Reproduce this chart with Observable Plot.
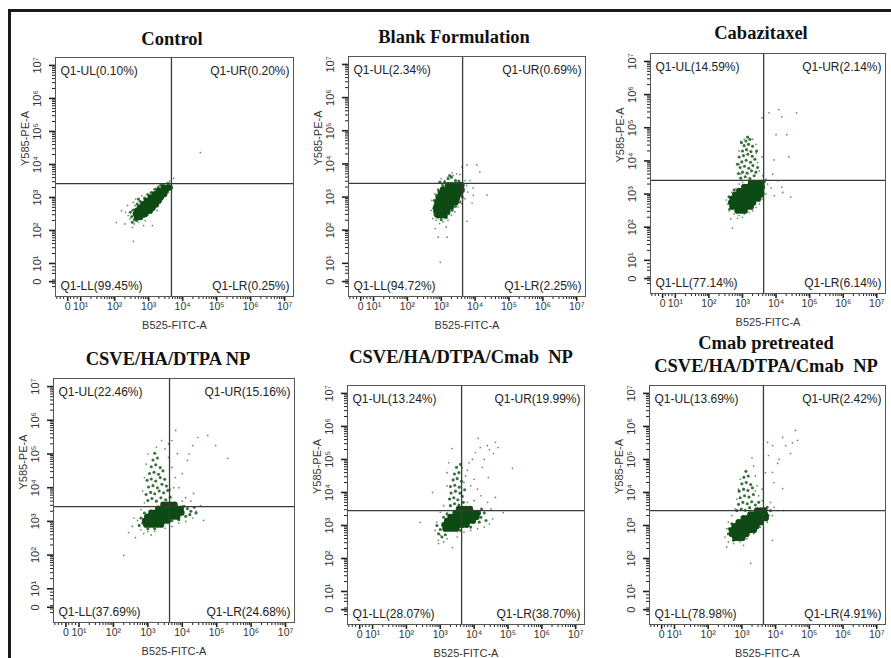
<!DOCTYPE html>
<html>
<head>
<meta charset="utf-8">
<script src="https://cdn.jsdelivr.net/npm/d3@7"></script>
<script src="https://cdn.jsdelivr.net/npm/@observablehq/plot@0.6"></script>
<style>
  html, body { margin: 0; padding: 0; background: #fff; }
  #fig { position: relative; width: 891px; height: 658px; overflow: hidden; background: #fff; }
  #border { position: absolute; left: 8px; top: 9px; width: 900px; height: 700px;
            border-left: 3px solid #1a1a1a; border-top: 3px solid #1a1a1a; }
  .title { position: absolute; width: 320px; text-align: center; white-space: pre;
           font-family: "Liberation Serif", "Times New Roman", serif; font-weight: bold;
           font-size: 18.5px; line-height: 20px; color: #111; }
  .panel { position: absolute; }
</style>
</head>
<body>
<div id="fig"><div id="border"></div></div>
<script>
// Panel titles
const titles = [
  "Control",
  "Blank Formulation",
  "Cabazitaxel",
  "CSVE/HA/DTPA NP",
  "CSVE/HA/DTPA/Cmab  NP",
  "Cmab pretreated\nCSVE/HA/DTPA/Cmab  NP"
];

// Quadrant percentages per panel: [UL, UR, LL, LR]
const quadrantPct = [
  [0.10, 0.20, 99.45, 0.25],
  [2.34, 0.69, 94.72, 2.25],
  [14.59, 2.14, 77.14, 6.14],
  [22.46, 15.16, 37.69, 24.68],
  [13.24, 19.99, 28.07, 38.70],
  [13.69, 2.42, 78.98, 4.91]
];

// Quadrant gate positions (log10 units) per panel
const gateX = [3.67, 3.63, 3.63, 3.63, 3.63, 3.64];
const gateY = [3.42, 3.41, 3.41, 3.44, 3.45, 3.45];

// Axis ticks (log10 decades); "0" sits on the biexponential segment below 10^1
const decades = [1, 2, 3, 4, 5, 6, 7];
const xZeroTick = 0.62;
const yZeroTick = 0.45;
const superscripts = ["⁰", "¹", "²", "³", "⁴", "⁵", "⁶", "⁷"];

// Events in log10 units [B525-FITC-A, Y585-PE-A].
// Dense cores are listed row by row as [PE level, [FITC values]].
const controlDenseRows = [
  [2.40, [2.66, 2.74]],
  [2.50, [2.62, 2.72, 2.82, 2.9]],
  [2.60, [2.66, 2.76, 2.86, 2.96, 3.04]],
  [2.70, [2.74, 2.84, 2.94, 3.04, 3.12]],
  [2.80, [2.84, 2.94, 3.04, 3.14, 3.22]],
  [2.90, [2.94, 3.04, 3.14, 3.24, 3.3]],
  [3.00, [3.06, 3.16, 3.26, 3.36]],
  [3.10, [3.18, 3.28, 3.38, 3.46]],
  [3.20, [3.3, 3.4, 3.5]],
  [3.30, [3.44, 3.54, 3.62]]
];
const controlMid = [[2.5,2.42],[2.55,2.62],[2.58,2.33],[2.66,2.8],[2.75,2.88],[2.64,2.3],[2.86,2.42],[2.95,2.48],[3.05,2.55],[3.15,2.64],[3.25,2.74],[2.88,2.98],[2.98,3.08],[3.08,3.15],[3.2,3.25],[3.28,3.3],[3.38,2.98],[3.48,3.1],[3.55,3.2],[3.45,3.35],[3.58,3.42],[3.66,3.3],[2.52,2.25],[2.46,2.55],[3.36,3.38],[2.7,2.95]];
const controlSparse = [[2.05,2.24],[2.55,1.67],[4.52,4.36],[2.52,2.09],[3.11,2.15],[2.32,2.55],[2.38,2.76],[3.73,3.58],[2.45,2.35],[2.5,2.6],[2.58,2.2],[2.65,2.3],[2.55,2.85],[2.62,2.95],[2.7,2.25],[2.82,2.35],[2.9,2.45],[2.75,2.9],[2.8,3.05],[2.95,3.1],[3.05,3.15],[3.2,2.7],[3.3,2.85],[3.35,2.95],[3.45,3.05],[3.5,3.15],[3.55,3.45],[3.62,3.5],[3.68,3.42],[3.4,3.4],[3.3,3.35],[3.15,3.25],[3.0,2.55],[2.9,2.3],[2.6,2.75],[2.4,2.45],[2.3,2.2],[3.25,2.6],[2.2,2.6],[2.85,2.15],[3.65,3.25],[3.58,3.15]];

const blankDenseRows = [
  [2.45, [2.9, 3.0, 3.1]],
  [2.58, [2.85, 2.96, 3.07, 3.18]],
  [2.71, [2.85, 2.96, 3.07, 3.18, 3.29]],
  [2.84, [2.88, 2.99, 3.1, 3.21, 3.32, 3.43]],
  [2.97, [2.92, 3.03, 3.14, 3.25, 3.36, 3.47]],
  [3.10, [2.98, 3.09, 3.2, 3.31, 3.42, 3.53]],
  [3.23, [3.05, 3.16, 3.27, 3.38, 3.49, 3.6]],
  [3.36, [3.2, 3.31, 3.42, 3.53, 3.6]]
];
const blankMid = [[3.1,3.45],[3.2,3.55],[3.3,3.6],[3.42,3.5],[3.52,3.48],[3.05,3.35],[3.65,3.18],[3.62,3.0],[3.55,2.86],[3.42,2.72],[3.32,2.6],[3.22,2.5],[2.78,2.66],[2.8,2.9],[2.86,3.05],[2.92,3.2],[3.15,2.38],[2.82,2.45],[3.0,2.32],[3.25,3.65],[2.96,3.45]];
const blankSparse = [[2.97,1.03],[2.91,1.79],[3.17,1.79],[3.76,2.27],[4.05,3.97],[4.35,3.06],[3.76,3.97],[3.61,3.91],[3.32,3.73],[4.14,3.76],[3.94,3.27],[3.91,2.82],[2.75,2.35],[2.7,2.6],[2.72,2.9],[2.8,3.1],[2.9,3.25],[3.0,3.4],[3.1,3.5],[3.2,3.6],[3.35,3.65],[3.45,3.7],[3.55,3.68],[3.7,3.5],[3.75,3.35],[3.78,3.15],[3.7,2.95],[3.6,2.8],[3.5,2.7],[3.4,2.55],[3.3,2.45],[3.2,2.3],[3.05,2.25],[2.95,2.2],[2.85,2.3],[3.1,2.4],[2.78,2.5],[3.85,3.5],[3.95,3.05],[3.0,3.55],[3.25,2.55],[3.65,3.15],[2.82,2.05],[3.15,2.1]];

const cabaDenseRows = [
  [2.50, [2.85, 2.96, 3.07]],
  [2.62, [2.7, 2.81, 2.92, 3.03, 3.14, 3.25]],
  [2.74, [2.66, 2.77, 2.88, 2.99, 3.1, 3.21, 3.32]],
  [2.86, [2.7, 2.81, 2.92, 3.03, 3.14, 3.25, 3.36, 3.47]],
  [2.98, [2.78, 2.89, 3.0, 3.11, 3.22, 3.33, 3.44, 3.55]],
  [3.10, [2.9, 3.01, 3.12, 3.23, 3.34, 3.45, 3.56]],
  [3.22, [3.05, 3.16, 3.27, 3.38, 3.49, 3.58]],
  [3.34, [3.25, 3.36, 3.47, 3.57]]
];
const cabaMid = [[2.95,3.48],[3.08,3.52],[3.22,3.47],[3.35,3.55],[2.88,3.62],[3.0,3.66],[3.14,3.63],[3.27,3.7],[3.4,3.66],[2.93,3.8],[3.06,3.84],[3.19,3.78],[3.31,3.86],[2.98,3.97],[3.11,4.02],[3.24,3.96],[3.37,4.05],[2.9,4.12],[3.03,4.16],[3.16,4.2],[3.29,4.14],[3.0,4.3],[3.12,4.34],[3.25,4.28],[3.05,4.46],[3.18,4.5],[3.3,4.44],[3.1,4.6],[3.22,4.65],[2.97,4.55],[3.45,3.8],[3.42,4.3],[2.85,3.9],[3.15,4.72],[2.62,2.55],[2.6,2.92],[2.75,3.12],[3.62,3.2],[3.65,3.38],[3.62,3.02]];
const cabaSparse = [[3.79,5.45],[4.08,5.55],[4.17,5.33],[4.61,5.45],[4.32,4.79],[4.0,4.79],[3.58,5.3],[3.41,4.24],[4.38,4.12],[4.44,2.91],[4.17,3.21],[3.85,3.18],[2.7,1.97],[2.52,2.82],[2.85,2.27],[3.58,4.12],[3.94,4.03],[2.95,4.6],[2.9,4.3],[2.9,3.9],[2.95,3.6],[3.4,4.5],[3.45,3.95],[3.5,3.7],[3.6,3.55],[3.7,3.45],[3.75,3.3],[3.7,3.0],[3.6,2.85],[3.5,2.7],[3.4,2.6],[3.3,2.5],[3.2,2.45],[3.05,2.4],[2.9,2.35],[2.75,2.4],[2.6,2.5],[2.55,2.7],[2.6,2.9],[2.68,3.05],[2.8,3.15],[2.9,3.3],[3.0,3.35],[3.3,4.65],[3.15,4.7],[3.05,4.65],[3.9,3.6],[4.05,3.4],[3.95,2.95],[4.2,3.05],[3.0,2.3],[2.65,2.25]];

const npDenseRows = [
  [2.90, [2.95, 3.06, 3.17, 3.28, 3.39]],
  [3.02, [2.92, 3.03, 3.14, 3.25, 3.36, 3.47, 3.58]],
  [3.14, [2.98, 3.09, 3.2, 3.31, 3.42, 3.53, 3.64, 3.75, 3.86]],
  [3.26, [3.1, 3.21, 3.32, 3.43, 3.54, 3.65, 3.76, 3.87, 3.98]],
  [3.38, [3.3, 3.41, 3.52, 3.63, 3.74, 3.85, 3.96]],
  [3.50, [3.45, 3.56, 3.67, 3.78]]
];
const npMid = [[3.0,3.62],[3.12,3.68],[3.25,3.6],[3.38,3.7],[3.52,3.64],[3.65,3.72],[2.95,3.8],[3.08,3.86],[3.2,3.82],[3.33,3.9],[3.46,3.85],[3.58,3.92],[3.02,4.02],[3.15,4.06],[3.28,4.0],[3.41,4.1],[3.54,4.05],[2.98,4.22],[3.1,4.26],[3.23,4.2],[3.36,4.3],[3.49,4.25],[3.05,4.42],[3.18,4.46],[3.31,4.4],[3.44,4.5],[3.1,4.62],[3.23,4.68],[3.36,4.6],[3.15,4.82],[3.28,4.88],[3.2,5.02],[4.05,3.45],[4.15,3.38],[4.25,3.3],[4.35,3.42],[4.1,3.15],[4.22,3.2],[4.4,3.25],[2.85,2.95],[2.8,3.1],[2.9,3.25],[3.7,3.02],[3.9,3.05],[3.0,2.78],[3.2,2.78],[2.75,2.88]];
const npSparse = [[2.44,2.67],[2.64,2.52],[2.3,1.99],[2.88,2.64],[2.7,3.03],[2.99,2.94],[3.81,5.7],[4.3,5.25],[4.45,5.49],[4.74,5.55],[4.97,5.25],[5.32,4.87],[4.0,4.42],[4.33,3.83],[4.53,3.47],[4.62,3.03],[3.86,5.01],[4.15,4.81],[3.6,5.3],[3.5,5.15],[3.0,5.0],[2.95,4.7],[2.9,4.3],[2.85,3.9],[3.7,4.6],[3.8,4.3],[3.9,4.0],[4.1,3.7],[4.25,3.6],[4.4,3.3],[4.3,3.1],[4.1,3.0],[3.9,2.95],[3.7,2.85],[3.5,2.8],[3.2,2.7],[3.0,2.7],[2.8,2.75],[2.75,2.9],[2.6,3.1],[3.6,4.9],[3.7,5.4],[4.2,5.0],[3.4,5.4],[3.25,5.2],[2.8,3.35],[2.9,3.55],[3.75,4.0],[3.65,3.95],[4.0,3.6],[3.1,2.6],[2.55,2.85]];

const cmabDenseRows = [
  [2.90, [3.15, 3.26, 3.37, 3.48]],
  [3.02, [3.12, 3.23, 3.34, 3.45, 3.56, 3.67, 3.78]],
  [3.14, [3.2, 3.31, 3.42, 3.53, 3.64, 3.75, 3.86, 3.97]],
  [3.26, [3.3, 3.41, 3.52, 3.63, 3.74, 3.85, 3.96, 4.07]],
  [3.38, [3.45, 3.56, 3.67, 3.78, 3.89, 4.0, 4.11]],
  [3.50, [3.55, 3.66, 3.77, 3.88]]
];
const cmabMid = [[3.3,3.6],[3.42,3.66],[3.55,3.62],[3.68,3.7],[3.28,3.8],[3.4,3.84],[3.52,3.78],[3.65,3.88],[3.32,3.98],[3.45,4.04],[3.58,3.98],[3.72,4.08],[3.3,4.18],[3.43,4.22],[3.56,4.16],[3.38,4.38],[3.5,4.42],[3.63,4.34],[3.42,4.56],[3.55,4.6],[3.48,4.76],[3.6,4.85],[2.95,2.75],[3.05,2.65],[3.0,2.88],[3.15,2.72],[2.9,3.0],[4.2,3.25],[4.3,3.38],[4.22,3.5],[4.15,3.1],[4.35,3.15],[3.9,2.95],[3.6,2.85],[3.2,3.35],[3.1,3.25]];
const cmabSparse = [[4.04,5.21],[4.18,5.36],[4.39,5.42],[4.63,5.52],[4.57,5.18],[4.12,5.64],[4.71,5.36],[3.8,4.67],[4.24,4.76],[4.42,4.45],[5.13,4.73],[4.86,3.39],[4.63,3.85],[2.77,4.0],[2.41,3.09],[3.36,2.33],[2.94,2.55],[3.35,5.33],[3.25,4.9],[3.2,4.6],[3.2,4.2],[3.25,3.8],[3.7,4.3],[3.75,4.5],[3.85,4.9],[3.95,5.0],[4.3,5.0],[4.45,5.3],[4.0,4.4],[4.1,4.1],[4.2,3.9],[4.4,3.7],[4.5,3.5],[4.55,3.2],[4.45,3.05],[4.3,2.95],[4.1,2.9],[3.9,2.85],[3.7,2.8],[3.5,2.65],[3.2,2.6],[3.0,2.7],[2.85,2.85],[2.9,3.1],[3.0,3.4],[3.1,3.6],[3.3,3.6],[3.65,4.75],[3.9,4.2],[4.0,3.75],[3.8,3.7],[2.95,2.45],[3.1,2.5]];

const pretreatDenseRows = [
  [2.62, [2.8, 2.91, 3.02]],
  [2.74, [2.7, 2.81, 2.92, 3.03, 3.14]],
  [2.86, [2.7, 2.81, 2.92, 3.03, 3.14, 3.25, 3.36]],
  [2.98, [2.78, 2.89, 3.0, 3.11, 3.22, 3.33, 3.44]],
  [3.10, [2.9, 3.01, 3.12, 3.23, 3.34, 3.45, 3.56]],
  [3.22, [3.05, 3.16, 3.27, 3.38, 3.49, 3.6, 3.71]],
  [3.34, [3.25, 3.36, 3.47, 3.58, 3.69]],
  [3.46, [3.45, 3.56, 3.67]]
];
const pretreatMid = [[2.85,3.45],[2.98,3.5],[3.1,3.46],[3.23,3.54],[2.9,3.64],[3.03,3.7],[3.16,3.66],[3.29,3.72],[2.95,3.84],[3.08,3.9],[3.21,3.86],[3.34,3.94],[2.92,4.04],[3.05,4.1],[3.18,4.06],[3.31,4.14],[3.0,4.26],[3.13,4.3],[3.26,4.24],[3.06,4.46],[3.19,4.5],[3.12,4.64],[3.4,3.62],[3.5,3.7],[3.78,3.3],[3.85,3.45],[3.75,3.55],[2.6,2.75],[2.62,2.9],[2.7,3.05],[2.75,2.55]];
const pretreatSparse = [[3.76,5.52],[3.91,5.42],[4.21,5.67],[4.3,5.42],[4.59,5.88],[4.65,5.58],[4.44,5.18],[4.06,4.88],[3.79,5.12],[3.91,4.61],[4.21,4.12],[4.06,3.45],[4.24,3.45],[3.91,2.55],[3.26,1.85],[3.3,5.05],[3.35,4.8],[3.4,4.5],[3.45,4.2],[2.95,4.4],[2.9,4.1],[2.85,3.8],[2.8,3.5],[2.7,3.3],[2.6,3.1],[2.55,2.9],[2.5,2.65],[2.6,2.5],[2.75,2.45],[2.95,2.5],[3.15,2.6],[3.35,2.75],[3.55,2.95],[3.75,3.1],[3.9,3.3],[3.95,3.55],[3.85,3.7],[3.6,3.75],[3.5,3.9],[3.4,4.05],[3.6,4.1],[3.95,4.3],[3.7,4.6],[4.1,5.0],[4.5,5.5],[3.05,2.4],[2.55,2.35]];

const events = [
  [controlDenseRows, controlMid, controlSparse],
  [blankDenseRows, blankMid, blankSparse],
  [cabaDenseRows, cabaMid, cabaSparse],
  [npDenseRows, npMid, npSparse],
  [cmabDenseRows, cmabMid, cmabSparse],
  [pretreatDenseRows, pretreatMid, pretreatSparse]
];

// Page layout: plot frame position/size and title placement for each panel
const frames = [
  {left: 55, top: 57, w: 238, h: 239},
  {left: 348, top: 56, w: 237, h: 240},
  {left: 650, top: 53, w: 235, h: 240},
  {left: 53, top: 378, w: 241, h: 244},
  {left: 347, top: 385, w: 237, h: 239},
  {left: 649, top: 385, w: 236, h: 239}
];
const titlePos = [
  {cx: 172, top: 29}, {cx: 454, top: 27}, {cx: 761, top: 23},
  {cx: 168, top: 349}, {cx: 461, top: 347}, {cx: 766, top: 332, lh: 23}
];

const minorTicks = [0.3, 0.4, 0.5, 0.7, 0.8, 0.9];
for (let n = 1; n < 7; n++) for (let k = 2; k <= 9; k++) minorTicks.push(n + Math.log10(k));

const ML = 50, MR = 6, MT = 6, MB = 40;
const fig = document.getElementById("fig");

function fmt(zero) {
  return d => Math.abs(d - zero) < 1e-9 ? "0" : "10" + superscripts[d];
}
const unrow = rows => rows.flatMap(([y, xs]) => xs.map(x => [x, y]));

frames.forEach((f, i) => {
  const [ul, ur, ll, lr] = quadrantPct[i];
  const [denseRows, mid, sparse] = events[i];
  const dense = unrow(denseRows);
  const q = (s) => [s];
  const chart = Plot.plot({
    width: f.w + ML + MR,
    height: f.h + MT + MB,
    marginLeft: ML, marginRight: MR, marginTop: MT, marginBottom: MB,
    style: {fontFamily: "'Liberation Sans', Arial, sans-serif", fontSize: "10.5px", color: "#333", background: "transparent"},
    x: {type: "linear", domain: [0.26, 7.26]},
    y: {type: "linear", domain: [0, 7.24]},
    marks: [
      // minor ticks
      Plot.axisX({ticks: minorTicks, tickFormat: () => "", tickSize: 3, stroke: "#222", label: null}),
      Plot.axisY({ticks: minorTicks, tickFormat: () => "", tickSize: 3, stroke: "#222", label: null}),
      // major ticks and labels
      Plot.axisX({ticks: [xZeroTick, ...decades], tickFormat: fmt(xZeroTick), tickSize: 5, tickPadding: 1, stroke: "#222", strokeWidth: 1.6, fill: "#333", label: null}),
      Plot.axisY({ticks: [yZeroTick, ...decades], tickFormat: fmt(yZeroTick), tickRotate: -90, tickSize: 6, tickPadding: 9, fontSize: 11, stroke: "#222", strokeWidth: 1.6, fill: "#333", label: null}),
      Plot.text(q("B525-FITC-A"), {frameAnchor: "bottom", dy: 32, fontSize: 11, fill: "#333"}),
      Plot.text(q("Y585-PE-A"), {frameAnchor: "left", dx: -30, dy: -11, rotate: -90, fontSize: 11, fill: "#333"}),
      // events
      Plot.dot(sparse, {x: d => d[0], y: d => d[1], r: 0.85, fill: "#5f8a5f", stroke: null}),
      Plot.dot(mid, {x: d => d[0], y: d => d[1], r: 1.55, fill: "#26602a", fillOpacity: 0.9, stroke: null}),
      Plot.dot(dense, {x: d => d[0], y: d => d[1], r: 3.1, fill: "#0e4a13", stroke: null}),
      // quadrant gates
      Plot.ruleX([gateX[i]], {stroke: "#3a3a3a", strokeWidth: 1.3}),
      Plot.ruleY([gateY[i]], {stroke: "#3a3a3a", strokeWidth: 1.3}),
      Plot.frame({stroke: "#555"}),
      // quadrant statistics
      Plot.text(q(`Q1-UL(${ul.toFixed(2)}%)`), {frameAnchor: "top-left", dx: 5, dy: 14, textAnchor: "start", lineAnchor: "middle", fontSize: 12, fill: "#222"}),
      Plot.text(q(`Q1-UR(${ur.toFixed(2)}%)`), {frameAnchor: "top-right", dx: -4, dy: 14, textAnchor: "end", lineAnchor: "middle", fontSize: 12, fill: "#222"}),
      Plot.text(q(`Q1-LL(${ll.toFixed(2)}%)`), {frameAnchor: "bottom-left", dx: 5, dy: -10, textAnchor: "start", lineAnchor: "middle", fontSize: 12, fill: "#222"}),
      Plot.text(q(`Q1-LR(${lr.toFixed(2)}%)`), {frameAnchor: "bottom-right", dx: -4, dy: -10, textAnchor: "end", lineAnchor: "middle", fontSize: 12, fill: "#222"})
    ]
  });
  const holder = document.createElement("div");
  holder.className = "panel";
  holder.style.left = (f.left - ML) + "px";
  holder.style.top = (f.top - MT) + "px";
  holder.appendChild(chart);
  fig.appendChild(holder);

  const t = document.createElement("div");
  t.className = "title";
  t.textContent = titles[i];
  t.style.left = (titlePos[i].cx - 160) + "px";
  t.style.top = titlePos[i].top + "px";
  if (titlePos[i].lh) t.style.lineHeight = titlePos[i].lh + "px";
  fig.appendChild(t);
});
</script>
</body>
</html>
